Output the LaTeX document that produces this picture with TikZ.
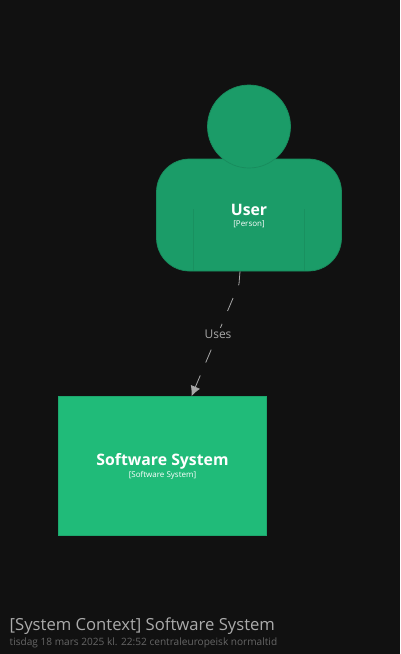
\documentclass[tikz,border=0pt]{standalone}
\usepackage{fontspec}
\setmainfont{Open Sans}
\usetikzlibrary{arrows, arrows.meta}
\definecolor{bgdark}{HTML}{111111}
\definecolor{persongreen}{HTML}{1B9C68}
\definecolor{personedge}{HTML}{188C5D}
\definecolor{systemgreen}{HTML}{20BB79}
\definecolor{systemedge}{HTML}{1DA86E}
\definecolor{relgrey}{HTML}{A8A8A8}
\definecolor{titlegrey}{HTML}{ABABAB}
\definecolor{dategrey}{HTML}{666666}
\tikzset{
    personbox/.style={fill=persongreen, draw=personedge, line width=0.7pt, rounded corners=33pt, minimum width=185pt, minimum height=112pt, inner sep=0pt},
    systembox/.style={fill=systemgreen, draw=systemedge, line width=0.7pt, minimum width=208pt, minimum height=139pt, inner sep=0pt},
    mainlabel/.style={text=white, font=\fontsize{15.8}{18}\selectfont\bfseries, inner sep=0pt},
    typelabel/.style={text=white, font=\fontsize{8}{9}\selectfont, inner sep=0pt},
    rellabel/.style={text=relgrey, fill=bgdark, font=\fontsize{12}{14}\selectfont, inner sep=2pt}
}
\begin{document}
\begin{tikzpicture}[x=1pt, y=-1pt]
    \useasboundingbox (0,0) rectangle (400,654);
    \fill [bgdark] (0,0) rectangle (400,654);
    % person
    \node [personbox] (user) at (249,215) {};
    \node [circle, fill=persongreen, draw=personedge, line width=0.7pt, minimum size=83pt, inner sep=0pt] (head) at (249,126.5) {};
    \draw [personedge!70!persongreen, line width=0.4pt] (193.5,209)--(193.5,270.5);
    \draw [personedge!70!persongreen, line width=0.4pt] (304.5,209)--(304.5,270.5);
    \node [mainlabel] (username) at (249,209.5) {User};
    \node [typelabel] (usertype) at (249,224) {[Person]};
    % software system
    \node [systembox] (system) at (162.5,466) {};
    \node [mainlabel] (systemname) at (162.5,461) {Software System};
    \node [typelabel] (systemtype) at (162.5,475.5) {[Software System]};
    % relationship
    \coordinate (relbend) at (239,284);
    \draw [relgrey, line width=0.8pt, dash pattern=on 14pt off 14pt, -{Latex[length=10pt, width=10pt]}] ([xshift=-9pt]user.south)--(relbend)--([xshift=29pt]system.north);
    \node [rellabel] (uses) at (218,334) {Uses};
    % title
    \node [anchor=base west, inner sep=0pt, text=titlegrey, font=\fontsize{16.65}{18}\selectfont] (title) at (9.5,630.5) {[System Context] Software System};
    \node [anchor=base west, inner sep=0pt, text=dategrey, font=\fontsize{10.1}{12}\selectfont] (date) at (9.5,645) {tisdag 18 mars 2025 kl. 22:52 centraleuropeisk normaltid};
\end{tikzpicture}
\end{document}
